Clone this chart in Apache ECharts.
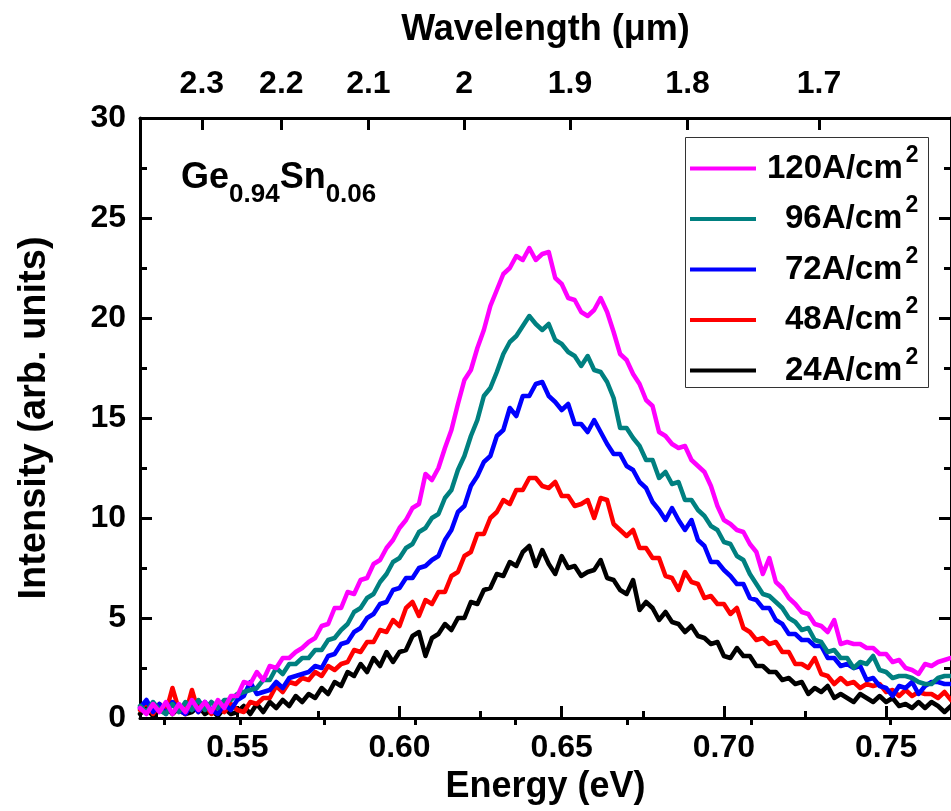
<!DOCTYPE html>
<html>
<head>
<meta charset="utf-8">
<script src="https://cdn.jsdelivr.net/npm/echarts@6/dist/echarts.min.js"></script>
<style>
  html, body { margin: 0; padding: 0; background: #fff; }
  #chart { width: 951px; height: 811px; }
</style>
</head>
<body>
<div id="chart"></div>
<script>
// Electroluminescence spectra of a Ge0.94Sn0.06 LED at several injection current densities.
// Spectra are sampled on a uniform energy grid starting at energyStart (eV) with step energyStep.
const energyStart = 0.520;
const energyStep = 0.002;

const currentDensities = [24, 48, 72, 96, 120];          // A/cm^2
const seriesColors = ['#000000', '#ff0000', '#0000ff', '#008080', '#ff00ff'];

const intensity24 = [
  0.2,0.5,0.1,0.4,0.6,0.2,0.5,0.2,0.3,0.6,
  0.2,0.4,0.1,0.5,0.2,0.3,0.6,0.2,0.7,0.3,
  0.8,0.5,0.9,0.6,1.1,0.8,1.2,1.0,1.5,1.2,
  1.8,1.6,2.3,2.1,2.7,2.3,3.0,2.6,3.3,2.8,
  3.3,3.4,4.1,4.3,3.1,4.0,4.2,4.7,4.4,5.0,
  5.0,5.8,5.7,6.4,6.5,7.2,7.1,7.8,7.6,8.3,
  8.6,7.6,8.4,7.7,7.2,8.1,7.5,7.6,7.1,7.3,
  7.4,7.9,7.0,6.9,6.4,6.2,6.9,5.4,5.8,5.5,
  4.9,5.3,4.8,4.7,4.3,4.6,4.1,4.0,3.7,3.8,
  3.1,3.0,3.5,3.1,3.1,2.6,2.6,2.3,2.3,1.9,
  2.0,1.7,1.8,1.2,1.5,1.3,1.6,1.0,1.2,1.0,
  0.8,1.2,1.0,0.8,1.1,0.8,1.0,0.6,0.7,0.5,
  0.8,0.5,0.8,0.6,0.3,0.6
];
const intensity48 = [
  0.4,0.8,0.2,0.7,0.3,1.5,0.4,0.2,1.4,0.3,
  0.7,0.2,0.6,0.3,0.7,0.4,0.3,0.8,0.7,1.0,
  1.0,1.6,1.3,1.8,1.7,2.0,1.9,2.3,2.1,2.6,
  2.4,2.7,2.8,3.4,3.3,3.8,3.8,4.4,4.3,4.9,
  4.6,5.5,5.8,5.1,5.9,5.7,6.3,6.3,7.1,7.3,
  8.1,8.3,9.2,9.2,10.0,10.3,10.9,10.7,11.4,11.4,
  12.0,12.0,11.6,11.5,11.8,11.1,11.1,10.6,10.7,10.9,
  10.0,11.0,10.9,9.7,9.4,9.1,9.4,8.5,8.5,8.0,
  8.0,7.1,7.0,6.4,7.3,6.8,6.7,6.0,6.1,5.7,
  5.7,5.2,5.5,4.5,4.3,3.9,4.0,3.7,3.8,3.3,
  3.3,2.7,2.7,2.5,3.0,2.2,2.1,1.7,2.0,1.7,
  1.8,1.5,1.7,1.6,1.7,1.3,1.4,1.1,1.4,1.1,
  1.3,1.2,1.2,1.0,1.3,0.9
];
const intensity72 = [
  0.5,0.9,0.3,0.7,0.2,0.8,0.4,0.2,0.7,0.3,
  0.8,0.4,0.2,0.7,0.4,0.9,1.1,1.8,1.2,1.3,
  1.4,1.8,1.5,2.0,2.1,2.2,2.3,2.6,2.5,3.1,
  3.2,3.7,3.8,4.3,4.5,5.0,5.2,5.7,5.8,6.4,
  6.5,7.0,7.0,7.5,7.6,7.9,8.1,8.9,9.4,10.3,
  10.6,11.6,12.1,12.8,13.1,14.1,14.4,15.5,15.1,16.1,
  16.1,16.7,16.8,16.1,15.8,15.4,15.7,14.7,14.7,14.3,
  14.9,14.3,13.7,13.2,13.2,12.6,12.4,11.8,11.5,10.8,
  10.4,9.9,10.5,9.9,9.4,9.9,8.9,8.6,7.8,7.8,
  7.4,7.1,6.7,6.7,6.0,5.9,5.5,5.5,4.9,4.7,
  4.2,4.2,3.9,3.9,3.6,3.6,3.0,3.0,2.6,2.7,
  2.5,2.6,1.9,2.0,1.6,1.5,1.1,1.6,1.5,1.8,
  1.2,1.6,1.8,1.8,1.7,1.7
];
const intensity96 = [
  0.6,0.3,0.8,0.4,0.2,0.7,0.3,0.8,0.4,0.9,
  0.4,0.8,0.5,0.9,0.9,1.2,1.3,1.4,1.5,1.9,
  1.9,2.5,2.2,2.7,2.7,3.0,3.0,3.4,3.4,3.9,
  4.0,4.4,4.7,5.3,5.5,6.0,6.2,6.8,7.2,7.8,
  8.0,8.5,8.7,9.3,9.5,10.0,10.2,11.0,11.4,12.4,
  13.1,14.1,14.9,16.1,16.5,17.3,18.2,18.8,19.1,19.6,
  20.1,19.7,19.4,19.7,18.9,18.7,18.3,18.1,17.6,18.1,
  17.4,17.3,16.8,16.0,14.5,14.5,14.0,13.6,12.9,12.9,
  12.0,12.3,11.7,11.8,10.9,10.9,10.4,10.1,9.6,9.4,
  8.8,8.7,8.1,7.9,7.2,6.7,6.2,6.1,5.8,5.5,
  5.0,4.8,4.4,4.5,3.9,3.8,3.3,3.4,3.0,3.0,
  2.5,2.8,2.7,3.1,2.4,2.3,2.0,2.1,2.1,2.0,
  1.8,1.7,1.7,2.0,2.1,2.1
];
const intensity120 = [
  0.5,0.2,0.7,0.3,0.8,0.2,0.7,0.3,0.9,0.4,
  0.8,0.3,0.9,0.5,1.1,1.1,1.8,1.7,2.3,1.9,
  2.6,2.5,3.0,3.0,3.3,3.5,3.8,4.0,4.6,4.7,
  5.5,5.5,6.3,6.2,6.9,7.0,7.7,7.9,8.5,8.9,
  9.5,9.9,10.5,10.7,12.2,11.9,12.5,13.5,14.4,15.7,
  16.9,17.4,18.5,19.4,20.6,21.4,22.2,22.5,23.1,22.9,
  23.5,22.9,23.2,23.3,22.0,21.7,21.0,20.9,20.3,20.1,
  20.4,21.0,20.3,19.3,18.2,17.9,17.2,16.7,15.9,15.6,
  14.3,14.1,13.7,13.5,13.6,12.9,12.6,12.3,11.6,10.6,
  9.9,9.7,9.4,9.3,8.7,8.3,7.2,8.0,6.8,6.5,
  6.0,5.7,5.3,5.2,4.7,4.6,4.3,4.9,3.7,3.8,
  3.7,3.7,3.5,3.5,3.2,3.2,2.8,2.9,2.5,2.4,
  2.2,2.7,2.6,2.8,2.9,3.0
];
const spectra = [intensity24, intensity48, intensity72, intensity96, intensity120];

// Axis ticks
const energyRange = [0.52, 0.77];
const energyTicks = [0.55, 0.60, 0.65, 0.70, 0.75];
const energyMinorTicks = [0.525, 0.575, 0.625, 0.675, 0.725];
const wavelengthTicks = [2.3, 2.2, 2.1, 2.0, 1.9, 1.8, 1.7];               // µm
const wavelengthMinorTicks = [2.35, 2.25, 2.15, 2.05, 1.95, 1.85, 1.75, 1.65];
const HC_EV_UM = 1.23984;   // photon energy (eV) × wavelength (µm)

const FONT = "'Liberation Sans', Arial, Helvetica, sans-serif";
const AXIS_W = 3;

const toEnergy = lambdas => lambdas.map(l => HC_EV_UM / l);

function xAxisBase(position) {
  return {
    type: 'value', gridIndex: 0, position: position,
    min: energyRange[0], max: energyRange[1],
    splitLine: { show: false }
  };
}

const xAxes = [
  Object.assign(xAxisBase('bottom'), {
    axisLine: { show: true, onZero: false, lineStyle: { color: '#000', width: AXIS_W } },
    axisTick: { show: true, inside: true, length: 12, customValues: energyTicks,
                lineStyle: { color: '#000', width: AXIS_W } },
    axisLabel: { show: true, customValues: energyTicks, formatter: v => v.toFixed(2),
                 color: '#000', fontFamily: FONT, fontWeight: 'bold', fontSize: 32, margin: 14 },
    name: 'Energy (eV)', nameLocation: 'middle', nameGap: 50,
    nameTextStyle: { color: '#000', fontFamily: FONT, fontWeight: 'bold', fontSize: 36 }
  }),
  Object.assign(xAxisBase('bottom'), {
    axisLine: { show: false },
    axisTick: { show: true, inside: true, length: 7, customValues: energyMinorTicks,
                lineStyle: { color: '#000', width: AXIS_W } },
    axisLabel: { show: false }
  }),
  Object.assign(xAxisBase('top'), {
    axisLine: { show: true, onZero: false, lineStyle: { color: '#000', width: AXIS_W } },
    axisTick: { show: true, inside: true, length: 12, customValues: toEnergy(wavelengthTicks),
                lineStyle: { color: '#000', width: AXIS_W } },
    axisLabel: { show: true, customValues: toEnergy(wavelengthTicks),
                 formatter: v => String(parseFloat((HC_EV_UM / v).toFixed(1))),
                 color: '#000', fontFamily: FONT, fontWeight: 'bold', fontSize: 32, margin: 18 },
    name: 'Wavelength (\u03bcm)', nameLocation: 'middle', nameGap: 70,
    nameTextStyle: { color: '#000', fontFamily: FONT, fontWeight: 'bold', fontSize: 36 }
  }),
  Object.assign(xAxisBase('top'), {
    axisLine: { show: false },
    axisTick: { show: true, inside: true, length: 7, customValues: toEnergy(wavelengthMinorTicks),
                lineStyle: { color: '#000', width: AXIS_W } },
    axisLabel: { show: false }
  })
];

function yAxis(position, withLabels) {
  const axis = {
    type: 'value', gridIndex: 0, position: position,
    min: 0, max: 30, interval: 5,
    splitLine: { show: false },
    axisLine: { show: true, onZero: false, lineStyle: { color: '#000', width: AXIS_W } },
    axisTick: { show: true, inside: true, length: 12, lineStyle: { color: '#000', width: AXIS_W } },
    minorTick: { show: true, splitNumber: 2, length: 7, lineStyle: { color: '#000', width: AXIS_W } },
    axisLabel: { show: withLabels, color: '#000', fontFamily: FONT, fontWeight: 'bold',
                 fontSize: 32, margin: 14 }
  };
  if (withLabels) {
    axis.name = 'Intensity (arb. units)';
    axis.nameLocation = 'middle';
    axis.nameGap = 86;
    axis.nameTextStyle = { color: '#000', fontFamily: FONT, fontWeight: 'bold', fontSize: 38 };
  }
  return axis;
}

const series = currentDensities.map((cd, s) => ({
  type: 'line',
  name: String(cd),
  xAxisIndex: 0,
  yAxisIndex: 0,
  showSymbol: false,
  symbol: 'none',
  color: seriesColors[s],
  lineStyle: { width: 4.5, color: seriesColors[s], join: 'round', cap: 'round' },
  data: spectra[s].map((v, i) => [energyStart + i * energyStep, v])
}));

const legendTextStyle = { fontWeight: 'bold', fontFamily: FONT, color: '#000' };

const chart = echarts.init(document.getElementById('chart'), null, { renderer: 'canvas' });
chart.setOption({
  animation: false,
  backgroundColor: '#ffffff',
  grid: { left: 140, top: 118, width: 816, height: 600, containLabel: false },
  xAxis: xAxes,
  yAxis: [yAxis('left', true), yAxis('right', false)],
  legend: {
    orient: 'vertical',
    left: 685, top: 137,
    padding: [7, 10, 0, 5],
    itemWidth: 66, itemHeight: 4, itemGap: 1.5,
    icon: 'rect',
    align: 'left',
    data: currentDensities.slice().reverse().map(String),
    // two-digit densities are padded by one digit width so the labels line up on the right
    formatter: name => (name.length < 3 ? '{p| }' : '{g| }') + '{a|' + name + 'A/cm}{s|2}',
    textStyle: {
      color: '#000', fontFamily: FONT, fontWeight: 'bold',
      rich: {
        g: Object.assign({ fontSize: 10, width: 6, lineHeight: 36 }, legendTextStyle),
        p: Object.assign({ fontSize: 10, width: 24, lineHeight: 36 }, legendTextStyle),
        a: Object.assign({ fontSize: 33, lineHeight: 36 }, legendTextStyle),
        // superscript: bottom padding lifts the glyph above the line centre
        s: Object.assign({ fontSize: 23, lineHeight: 36, padding: [0, 0, 26, 3] }, legendTextStyle)
      }
    }
  },
  graphic: [
    {
      // legend frame
      type: 'rect',
      silent: true,
      shape: { x: 685.5, y: 137.5, width: 243, height: 250 },
      style: { fill: 'none', stroke: '#333', lineWidth: 1 }
    },
    {
      type: 'text',
      left: 181, top: 160,
      style: {
        text: '{m|Ge}{b|0.94}{m|Sn}{b|0.06}',
        fill: '#000',
        rich: {
          m: { fontSize: 36, fontWeight: 'bold', fontFamily: FONT, fill: '#000', lineHeight: 60 },
          b: { fontSize: 26, fontWeight: 'bold', fontFamily: FONT, fill: '#000', lineHeight: 25,
               verticalAlign: 'bottom' }
        }
      }
    }
  ],
  series: series
});
</script>
</body>
</html>
